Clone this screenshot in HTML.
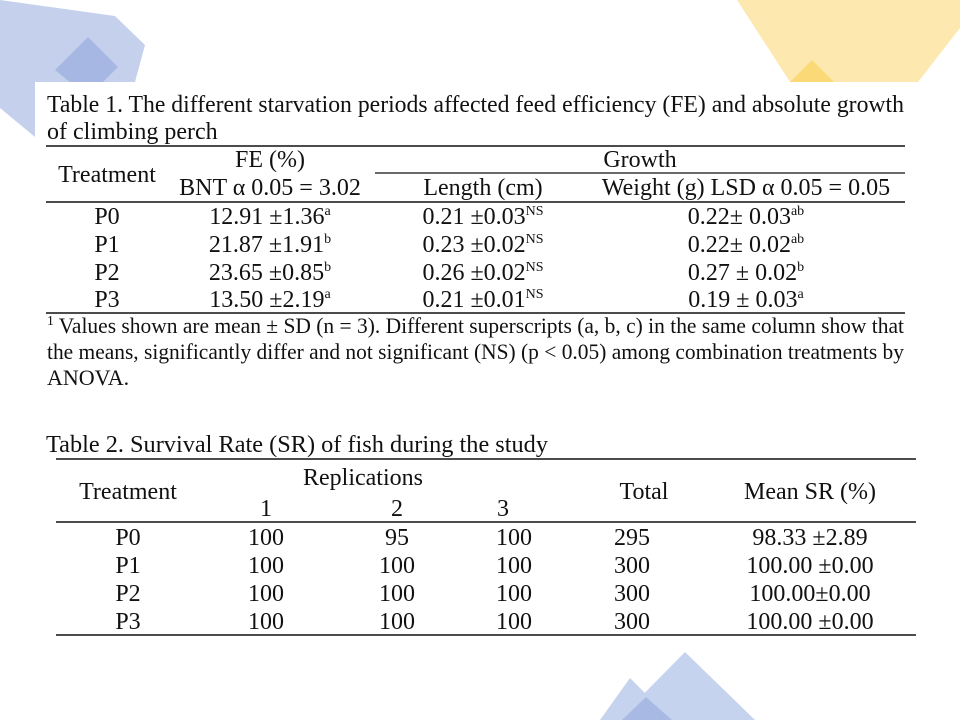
<!DOCTYPE html>
<html><head><meta charset="utf-8"><style>
html,body{margin:0;padding:0;background:#fff;}
svg{display:block;}
text{font-family:"Liberation Serif",serif;font-size:24px;fill:#111;}
.s{font-size:14px;}
.f{font-size:22px;}
</style></head><body>
<svg width="960" height="720" viewBox="0 0 960 720" xmlns="http://www.w3.org/2000/svg">
<polygon points="0,0 115,16 145,45 135,82 35,82 35,137 0,108" fill="#c5d1ec"/>
<polygon points="88,37 118,67 88,97 55,70" fill="#a5b7e2"/>
<polygon points="737,0 960,0 960,28 918,82 790,82" fill="#fde9b0"/>
<polygon points="812,60 834,82 790,82" fill="#fcd977"/>
<polygon points="685,652 755,720 618,720" fill="#c6d3ee"/>
<polygon points="630,678 672,720 600,720" fill="#c6d3ee"/>
<polygon points="646,697 672,720 622,720" fill="#a8b9e3"/>
<rect x="35" y="82" width="925" height="560" fill="#fff"/>
<g stroke="#111">
<line x1="46" y1="146" x2="905" y2="146" stroke-width="1.5"/>
<line x1="375" y1="173" x2="905" y2="173" stroke-width="1.2"/>
<line x1="46" y1="202" x2="905" y2="202" stroke-width="1.5"/>
<line x1="46" y1="313" x2="905" y2="313" stroke-width="1.5"/>
<line x1="56" y1="459" x2="916" y2="459" stroke-width="1.5"/>
<line x1="56" y1="522" x2="916" y2="522" stroke-width="1.5"/>
<line x1="56" y1="635" x2="916" y2="635" stroke-width="1.5"/>
</g>
<text x="47" y="112" textLength="857" lengthAdjust="spacingAndGlyphs">Table 1. The different starvation periods affected feed efficiency (FE) and absolute growth</text>
<text x="47" y="139">of climbing perch</text>
<g text-anchor="middle">
<text x="270" y="167">FE (%)</text>
<text x="107" y="182">Treatment</text>
<text x="270" y="195">BNT α 0.05 = 3.02</text>
<text x="640" y="167">Growth</text>
<text x="483" y="195">Length (cm)</text>
<text x="746" y="195">Weight (g) LSD α 0.05 = 0.05</text>
<text x="107" y="224">P0</text><text x="107" y="252">P1</text><text x="107" y="280">P2</text><text x="107" y="307">P3</text>
<text x="270" y="224">12.91 ±1.36<tspan class="s" dy="-9">a</tspan></text>
<text x="270" y="252">21.87 ±1.91<tspan class="s" dy="-9">b</tspan></text>
<text x="270" y="280">23.65 ±0.85<tspan class="s" dy="-9">b</tspan></text>
<text x="270" y="307">13.50 ±2.19<tspan class="s" dy="-9">a</tspan></text>
<text x="483" y="224">0.21 ±0.03<tspan class="s" dy="-9">NS</tspan></text>
<text x="483" y="252">0.23 ±0.02<tspan class="s" dy="-9">NS</tspan></text>
<text x="483" y="280">0.26 ±0.02<tspan class="s" dy="-9">NS</tspan></text>
<text x="483" y="307">0.21 ±0.01<tspan class="s" dy="-9">NS</tspan></text>
<text x="746" y="224">0.22± 0.03<tspan class="s" dy="-9">ab</tspan></text>
<text x="746" y="252">0.22± 0.02<tspan class="s" dy="-9">ab</tspan></text>
<text x="746" y="280">0.27 ± 0.02<tspan class="s" dy="-9">b</tspan></text>
<text x="746" y="307">0.19 ± 0.03<tspan class="s" dy="-9">a</tspan></text>
</g>
<text class="f" x="47" y="333" textLength="857" lengthAdjust="spacingAndGlyphs"><tspan class="s" dy="-8">1</tspan><tspan dy="8"> Values shown are mean ± SD (n = 3). Different superscripts (a, b, c) in the same column show that</tspan></text>
<text class="f" x="47" y="359" textLength="857" lengthAdjust="spacingAndGlyphs">the means, significantly differ and not significant (NS) (p &lt; 0.05) among combination treatments by</text>
<text class="f" x="47" y="385">ANOVA.</text>
<text x="46" y="452" textLength="502" lengthAdjust="spacingAndGlyphs">Table 2. Survival Rate (SR) of fish during the study</text>
<g text-anchor="middle">
<text x="363" y="485">Replications</text>
<text x="128" y="499">Treatment</text>
<text x="266" y="516">1</text><text x="397" y="516">2</text><text x="503" y="516">3</text>
<text x="644" y="499">Total</text>
<text x="810" y="499">Mean SR (%)</text>
<text x="128" y="545">P0</text><text x="128" y="573">P1</text><text x="128" y="601">P2</text><text x="128" y="629">P3</text>
<text x="266" y="545">100</text><text x="266" y="573">100</text><text x="266" y="601">100</text><text x="266" y="629">100</text>
<text x="397" y="545">95</text><text x="397" y="573">100</text><text x="397" y="601">100</text><text x="397" y="629">100</text>
<text x="514" y="545">100</text><text x="514" y="573">100</text><text x="514" y="601">100</text><text x="514" y="629">100</text>
<text x="632" y="545">295</text><text x="632" y="573">300</text><text x="632" y="601">300</text><text x="632" y="629">300</text>
<text x="810" y="545">98.33 ±2.89</text><text x="810" y="573">100.00 ±0.00</text><text x="810" y="601">100.00±0.00</text><text x="810" y="629">100.00 ±0.00</text>
</g>
</svg>
</body></html>
